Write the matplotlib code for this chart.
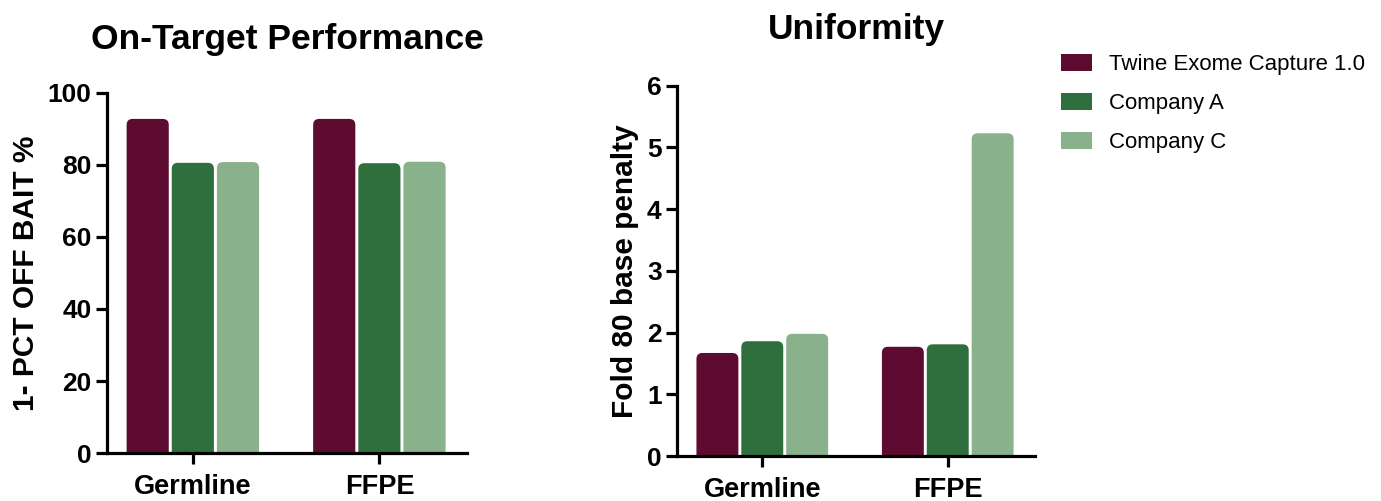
import matplotlib
matplotlib.use("Agg")
import matplotlib.pyplot as plt
from matplotlib.patches import FancyBboxPatch, Patch
import numpy as np

plt.rcParams['font.family'] = ['Liberation Sans', 'DejaVu Sans']

groups = ["Germline", "FFPE"]
series = ["Twine Exome Capture 1.0", "Company A", "Company C"]
colors = ["#5E0B32", "#2F6E3D", "#88B18C"]
on_target = {
    "Twine Exome Capture 1.0": [92.8, 92.8],
    "Company A": [80.6, 80.5],
    "Company C": [80.8, 80.9],
}
fold80 = {
    "Twine Exome Capture 1.0": [1.67, 1.77],
    "Company A": [1.86, 1.81],
    "Company C": [1.98, 5.23],
}

fig = plt.figure(figsize=(13.81, 5.01), dpi=100)
ax1 = fig.add_axes([0.0775, 0.0958, 0.2607, 0.7186])
ax2 = fig.add_axes([0.4902, 0.0898, 0.2592, 0.7390])

x = np.arange(len(groups))
offsets = [-0.242, 0.0, 0.242]
width = 0.226


def rounded_bars(ax, data, ymax, px_h):
    ax.set_xlim(-0.46, 1.47)
    ax.set_ylim(0, ymax)
    xpp = (1.47 + 0.46) / 360.0
    ypp = ymax / px_h
    aspect = ypp / xpp
    r = 6 * xpp
    for s, off, c in zip(series, offsets, colors):
        bars = ax.bar(x + off, data[s], width, color=c)
        for b in bars:
            b.set_visible(False)
            bx, bw, bh = b.get_x(), b.get_width(), b.get_height()
            ext = 3 * r * aspect
            p = FancyBboxPatch((bx, -ext), bw, bh + ext,
                               boxstyle=f"round,pad=0,rounding_size={r}",
                               mutation_aspect=aspect, facecolor=c,
                               edgecolor='none', zorder=2)
            ax.add_patch(p)


rounded_bars(ax1, on_target, 100, 360)
rounded_bars(ax2, fold80, 6, 370)

ax1.set_yticks([0, 20, 40, 60, 80, 100])
ax2.set_yticks([0, 1, 2, 3, 4, 5, 6])

for ax in (ax1, ax2):
    for sp in ("top", "right"):
        ax.spines[sp].set_visible(False)
    for sp in ("left", "bottom"):
        ax.spines[sp].set_linewidth(2.3)
        ax.spines[sp].set_zorder(3)
    ax.set_xticks(x)
    ax.set_xticklabels(groups, fontsize=19.5, fontweight='bold')
    ax.tick_params(axis='both', width=2.3, length=8, direction='out')
    ax.tick_params(axis='y', labelsize=19, pad=3)
    ax.tick_params(axis='x', pad=7)
    for lab in ax.get_yticklabels():
        lab.set_fontweight('bold')

ax1.set_ylabel("1- PCT OFF BAIT %", fontsize=21.5, fontweight='bold', labelpad=6)
ax2.set_ylabel("Fold 80 base penalty", fontsize=21.5, fontweight='bold', labelpad=6)

ax1.set_title("On-Target Performance", fontsize=25.5, fontweight='bold', pad=32)
ax2.set_title("Uniformity", fontsize=25.5, fontweight='bold', pad=34)

handles = [Patch(facecolor=c, edgecolor='none') for c in colors]
fig.legend(handles, series, loc='upper left', bbox_to_anchor=(0.762, 0.91),
           frameon=False, fontsize=16, handlelength=1.4, handleheight=0.8,
           handletextpad=0.75, labelspacing=0.8, borderaxespad=0)

fig.savefig("out.png", dpi=100)
